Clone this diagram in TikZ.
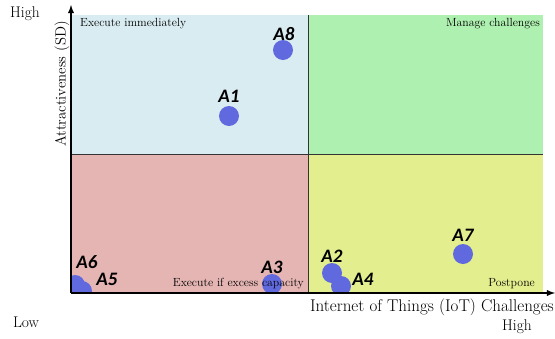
\documentclass[tikz,border=0pt]{standalone}
\usepackage{fontspec}
\usepackage{tikz}
\newfontfamily\lblfont{Carlito}
\definecolor{quadblue}{RGB}{217,236,242}
\definecolor{quadgreen}{RGB}{174,240,176}
\definecolor{quadred}{RGB}{228,181,178}
\definecolor{quadyellow}{RGB}{227,238,142}
\definecolor{dotblue}{RGB}{96,106,222}

\begin{document}
\begin{tikzpicture}[x=1pt, y=-1pt,
		  alt/.style={circle, fill=dotblue, inner sep=0pt, minimum size=20pt},
		  alt label/.style={font=\lblfont\bfseries\itshape\fontsize{19}{19}\selectfont, inner sep=0pt},
		  quad label/.style={font=\fontsize{11.8}{13}\selectfont, inner sep=0pt},
		  axis text/.style={font=\fontsize{15.5}{17}\selectfont, inner sep=0pt}]
		  \useasboundingbox (0,0) rectangle (555,338);
		  % quadrants
		  \fill[quadblue] (71,15) rectangle (308,154);
		  \fill[quadgreen] (308,15) rectangle (543,154);
		  \fill[quadred] (71,154) rectangle (308,293);
		  \fill[quadyellow] (308,154) rectangle (543,293);
		  \draw[black!80, thick] (308,15) -- (308,293);
		  \draw[black!80, thick] (71,154) -- (543,154);
		  % alternatives
		  \begin{scope}
		  \clip (71,15) rectangle (543,293);
		  \node[alt] (a8) at (283,50) {};
		  \node[alt] (a1) at (229,116) {};
		  \node[alt] (a3) at (272,284) {};
		  \node[alt] (a6) at (75,285) {};
		  \node[alt] (a5) at (82,291) {};
		  \node[alt] (a2) at (332,273) {};
		  \node[alt] (a4) at (341,286) {};
		  \node[alt] (a7) at (463,254) {};
		  \end{scope}
		  \node[quad label, anchor=west] (qi) at (80,24) {Execute immediately};
		  \node[quad label, anchor=east] (qm) at (540,24) {Manage challenges};
		  \node[quad label, anchor=east] (qe) at (304,284) {Execute if excess capacity};
		  \node[quad label, anchor=east] (qp) at (535,284) {Postpone};
		  \node[alt label] (l8) at (284,34) {A8};
		  \node[alt label] (l1) at (229,96) {A1};
		  \node[alt label] (l3) at (272,267) {A3};
		  \node[alt label] (l6) at (87,262) {A6};
		  \node[alt label] (l5) at (107,279) {A5};
		  \node[alt label] (l2) at (332,256) {A2};
		  \node[alt label] (l4) at (363,279) {A4};
		  \node[alt label] (l7) at (463,235) {A7};
		  % axes
		  \coordinate (o) at (71,293);
		  \coordinate (ytip) at (71,5);
		  \coordinate (xtip) at (555,293);
		  \draw[line width=1.8pt, -latex] (o) -- (ytip);
		  \draw[line width=1.8pt, -latex] (o) -- (xtip);
		  \node[axis text, rotate=90, font=\fontsize{14.8}{16}\selectfont] (ylab) at (62,84) {Attractiveness (SD)};
		  \node[axis text, anchor=east, font=\fontsize{17}{18}\selectfont] (xlab) at (554,307) {Internet of Things (IoT) Challenges};
		  \node[axis text] (xhigh) at (517,327) {High};
		  \node[axis text] (yhigh) at (25,14) {High};
		  \node[axis text] (low) at (26,322) {Low};
\end{tikzpicture}
\end{document}
